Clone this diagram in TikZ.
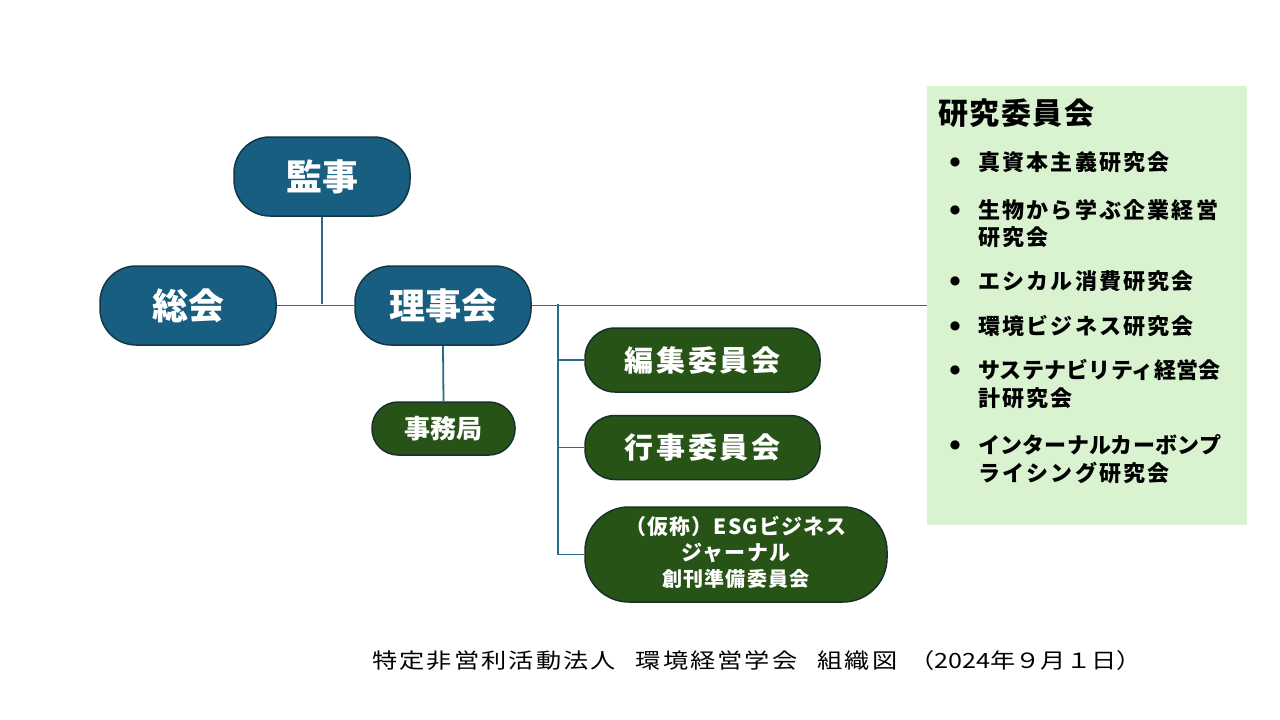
\documentclass[tikz,border=0pt]{standalone}
\usepackage{fontspec}
\setmainfont{Noto Sans CJK JP}
\newfontfamily\jp{Noto Sans CJK JP}
\newfontfamily\djvfont{DejaVu Sans}
\definecolor{bluefill}{HTML}{175E80}
\definecolor{blueedge}{HTML}{123848}
\definecolor{greenfill}{HTML}{275317}
\definecolor{greenedge}{HTML}{16302E}
\definecolor{linec}{HTML}{2A6A8A}
\definecolor{panel}{HTML}{D9F2D0}
\tikzset{
  bluebox/.style={draw=blueedge, line width=1.5pt, fill=bluefill, text=white, font=\jp\bfseries\fontsize{36pt}{40pt}\selectfont, minimum width=176, minimum height=79, rounded corners=36, inner sep=0pt, align=center},
  greenbox/.style={draw=greenedge, line width=1.5pt, fill=greenfill, text=white, font=\jp\bfseries, rounded corners=30, inner sep=0pt, align=center},
  conn/.style={draw=linec, line width=1.8pt},
  item/.style={anchor=west, inner sep=0pt, font=\jp\bfseries\fontsize{22pt}{26pt}\selectfont\addfontfeature{LetterSpace=10}, text=black},
  itemk/.style={item, font=\jp\bfseries\fontsize{22pt}{26pt}\selectfont\addfontfeature{LetterSpace=1}},
  bul/.style={inner sep=0pt, font=\djvfont\fontsize{12pt}{14pt}\selectfont, text=black},
}
\begin{document}
\begin{tikzpicture}[x=1pt, y=-1pt]
\fill[white] (0,0) rectangle (1280,720);
\useasboundingbox (0,0) rectangle (1280,720);

% research panel
\node[fill=panel, minimum width=320, minimum height=439, inner sep=0pt, anchor=north west] (panel) at (927,86) {};
\node[anchor=west, inner sep=0pt, text=black, font=\jp\bfseries\fontsize{30pt}{34pt}\selectfont\addfontfeature{LetterSpace=5}] (ptitle) at (938,113) {研究委員会};
\foreach \y/\n in {162/b1,210/b2,281/b3,326/b4,370/b5,445/b6}{
  \node[bul] (\n) at (955,\y) {●};
}
\node[item] (i1) at (978,162) {真資本主義研究会};
\node[item] (i2a) at (978,210) {生物から学ぶ企業経営};
\node[item] (i2b) at (978,237) {研究会};
\node[item] (i3) at (978,281) {エシカル消費研究会};
\node[item] (i4) at (978,326) {環境ビジネス研究会};
\node[itemk] (i5a) at (978,370) {サステナビリティ経営会};
\node[item] (i5b) at (978,398) {計研究会};
\node[itemk] (i6a) at (978,445) {インターナルカーボンプ};
\node[item] (i6b) at (978,473) {ライシング研究会};

% main nodes
\node[bluebox] (kanji) at (322,176.5) {監事};
\node[bluebox] (soukai) at (188,305.5) {総会};
\node[bluebox] (riji) at (443,305.5) {理事会};
\node[greenbox, minimum width=143, minimum height=53, rounded corners=26, font=\jp\bfseries\fontsize{26pt}{30pt}\selectfont] (jimu) at (443.5,428.5) {事務局};
\node[greenbox, minimum width=235, minimum height=64, font=\jp\bfseries\fontsize{29pt}{32pt}\selectfont\addfontfeature{LetterSpace=10}] (hen) at (702.5,360) {編集委員会};
\node[greenbox, minimum width=235, minimum height=64, font=\jp\bfseries\fontsize{29pt}{32pt}\selectfont\addfontfeature{LetterSpace=10}] (gyo) at (702.5,447.5) {行事委員会};
\node[greenbox, minimum width=302, minimum height=95, rounded corners=44] (esg) at (736,554.5) {};
\node[text=white, inner sep=0pt, align=center, font=\jp\bfseries\fontsize{21pt}{26pt}\selectfont\addfontfeature{LetterSpace=5}] (esgt) at ([yshift=2pt]esg.center)
  {（仮称）ESGビジネス\\ジャーナル\\{\fontsize{20pt}{26pt}\selectfont\addfontfeature{LetterSpace=6}創刊準備委員会}};

% connectors
\coordinate (j1) at (322,304);
\coordinate (bus) at (558,304);
\draw[conn] (kanji.south) -- (j1);
\draw[conn] (soukai.east) -- (riji.west);
\draw[conn] (riji.east) -- (panel.west |- riji.east);
\draw[conn] (riji.south) -- (jimu.north);
\draw[conn] (bus) |- (esg.west);
\draw[conn] (bus |- hen.west) -- (hen.west);
\draw[conn] (bus |- gyo.west) -- (gyo.west);

% footer
\node[inner sep=0pt, font=\jp\fontsize{21pt}{24pt}\selectfont\addfontfeature{FakeStretch=1.2,LetterSpace=10}, anchor=west] (foot) at (372,661) {特定非営利活動法人\hspace{20pt}環境経営学会\hspace{20pt}組織図\hspace{12pt}{\addfontfeature{LetterSpace=0}（2024年９月１日）}};
\end{tikzpicture}
\end{document}
